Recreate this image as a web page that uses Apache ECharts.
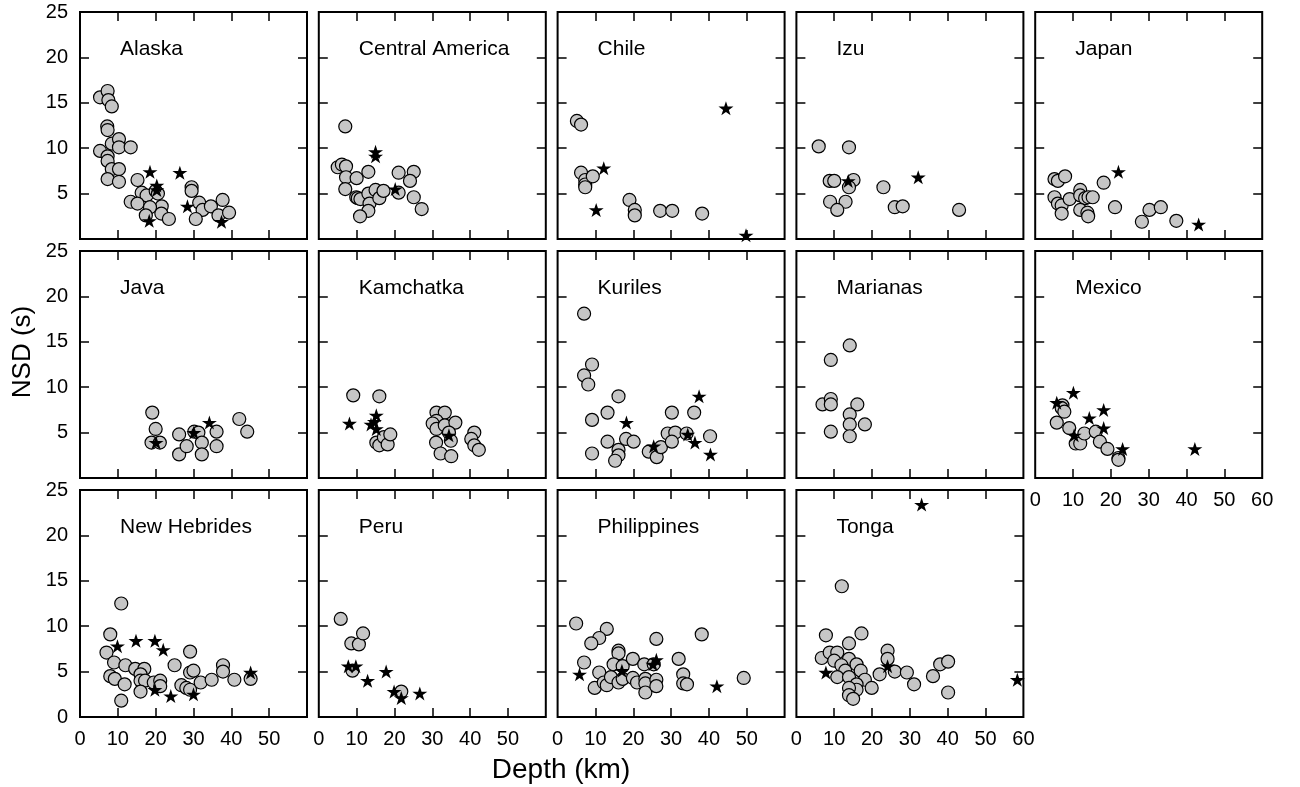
<!DOCTYPE html>
<html>
<head>
<meta charset="utf-8">
<script src="https://cdn.jsdelivr.net/npm/echarts@6/dist/echarts.min.js"></script>
<style>html,body{margin:0;padding:0;background:#fff}#c{width:1300px;height:787px}</style>
</head>
<body>
<div id="c"></div>
<script>
const regions = ['Alaska','Central America','Chile','Izu','Japan','Java','Kamchatka','Kuriles','Marianas','Mexico','New Hebrides','Peru','Philippines','Tonga'];
const xTicks = [0,10,20,30,40,50,60];
const yTicks = [0,5,10,15,20,25];

const alaskaCircles = [[5.3,15.6],[7.3,16.3],[7.5,15.3],[8.4,14.6],[7.2,12.4],[7.3,12.0],[8.4,10.5],[10.3,11.0],[10.3,10.1],[13.4,10.1],[5.3,9.7],[7.3,9.1],[7.3,8.6],[8.4,7.7],[10.3,7.7],[7.3,6.6],[10.3,6.3],[15.2,6.5],[16.3,5.1],[17.6,4.8],[13.4,4.1],[15.2,3.9],[20.0,5.3],[20.6,5.0],[21.6,3.6],[18.5,3.5],[17.4,2.6],[21.5,2.8],[23.5,2.2],[29.5,5.7],[29.5,5.3],[31.5,4.0],[32.4,3.2],[30.6,2.2],[34.6,3.6],[37.7,4.3],[36.6,2.6],[39.4,2.9]];
const alaskaStars = [[18.5,7.4],[26.4,7.3],[20.3,5.9],[20.3,5.4],[28.4,3.6],[18.3,2.0],[37.4,1.9]];

const centralAmericaCircles = [[7.0,12.4],[5.0,7.9],[6.1,8.2],[7.2,8.0],[7.2,6.8],[10.0,6.7],[13.1,7.4],[7.0,5.5],[9.9,4.6],[10.3,4.5],[11.0,4.4],[13.1,5.0],[13.4,3.9],[13.1,3.1],[10.9,2.5],[15.0,5.4],[16.0,4.5],[17.1,5.3],[21.1,7.3],[25.1,7.4],[24.1,6.4],[21.1,5.1],[25.1,4.6],[27.2,3.3]];
const centralAmericaStars = [[15.0,9.6],[15.0,9.1],[20.2,5.5]];

const chileCircles = [[5.1,13.0],[6.2,12.6],[6.2,7.3],[7.3,6.5],[7.3,6.0],[7.3,5.7],[9.3,6.9],[19.0,4.3],[20.4,3.2],[20.4,2.6],[27.1,3.1],[30.3,3.1],[38.2,2.8]];
const chileStars = [[44.5,14.4],[12.2,7.8],[10.2,3.2],[49.8,0.4]];

const izuCircles = [[5.9,10.2],[13.9,10.1],[8.8,6.4],[10.0,6.4],[15.1,6.5],[13.9,5.7],[8.9,4.1],[13.0,4.1],[10.8,3.2],[23.0,5.7],[26.0,3.5],[28.1,3.6],[43.0,3.2]];
const izuStars = [[13.7,6.4],[32.2,6.8]];

const japanCircles = [[5.1,6.6],[6.0,6.4],[7.9,6.9],[18.1,6.2],[5.1,4.6],[6.0,3.9],[7.0,3.7],[7.0,2.8],[9.1,4.4],[11.9,5.4],[11.9,4.8],[13.2,4.5],[14.1,4.6],[15.2,4.6],[11.9,3.2],[13.8,2.9],[14.0,2.5],[21.1,3.5],[28.2,1.9],[30.2,3.2],[33.2,3.5],[37.3,2.0]];
const japanStars = [[22.0,7.4],[43.2,1.6]];

const javaCircles = [[19.1,7.2],[20.0,5.4],[18.9,3.9],[21.1,3.9],[26.2,4.8],[26.2,2.6],[28.2,3.5],[30.2,5.1],[31.3,5.0],[32.2,3.9],[32.2,2.6],[36.1,5.1],[36.1,3.5],[42.1,6.5],[44.2,5.1]];
const javaStars = [[20.1,3.9],[30.1,5.0],[34.2,6.1]];

const kamchatkaCircles = [[9.1,9.1],[16.0,9.0],[15.2,3.9],[16.0,3.6],[17.2,4.5],[18.2,3.7],[18.9,4.8],[31.1,7.2],[33.3,7.2],[31.1,6.3],[30.1,6.0],[31.1,5.4],[33.3,5.8],[36.1,6.1],[34.4,5.0],[34.9,4.1],[31.0,3.9],[32.2,2.7],[35.0,2.4],[41.1,5.0],[40.3,4.3],[41.1,3.6],[42.3,3.1]];
const kamchatkaStars = [[8.1,6.0],[15.2,6.9],[13.8,5.9],[14.7,6.2],[15.2,5.4],[34.4,4.7]];

const kurilesCircles = [[7.0,18.1],[9.1,12.5],[7.0,11.3],[8.1,10.3],[16.1,9.0],[9.1,6.4],[13.2,7.2],[30.2,7.2],[36.1,7.2],[13.2,4.0],[18.1,4.3],[20.1,4.0],[9.1,2.7],[16.1,3.1],[16.1,2.5],[15.2,1.9],[24.1,2.9],[26.2,2.3],[27.3,3.4],[29.1,4.9],[31.1,5.0],[30.2,4.0],[34.1,4.9],[40.3,4.6]];
const kurilesStars = [[37.4,9.0],[18.2,6.1],[25.4,3.5],[34.4,4.8],[36.3,3.9],[40.4,2.6]];

const marianasCircles = [[14.1,14.6],[9.1,13.0],[6.9,8.1],[9.1,8.7],[9.1,8.1],[16.1,8.1],[14.1,7.0],[14.1,5.9],[18.1,5.9],[9.1,5.1],[14.1,4.6]];
const marianasStars = [];

const mexicoCircles = [[7.2,8.0],[7.0,7.7],[7.7,7.3],[5.7,6.1],[9.0,5.5],[10.7,3.8],[11.9,3.8],[13.0,4.9],[16.0,5.1],[17.1,4.0],[19.1,3.2],[22.0,2.2],[22.0,2.0]];
const mexicoStars = [[5.7,8.3],[10.1,9.4],[14.3,6.6],[18.1,7.5],[18.1,5.5],[10.3,4.7],[23.1,3.2],[42.2,3.2]];

const newHebridesCircles = [[10.9,12.5],[8.0,9.1],[7.0,7.1],[9.0,6.0],[12.0,5.7],[8.0,4.5],[9.2,4.2],[11.8,3.6],[14.6,5.3],[17.0,5.3],[16.0,4.7],[16.0,4.0],[17.2,4.0],[16.0,2.8],[19.5,3.8],[21.2,4.0],[21.2,3.4],[10.9,1.8],[25.0,5.7],[29.1,7.2],[29.1,4.9],[30.0,5.1],[26.8,3.5],[28.1,3.2],[29.1,3.0],[31.9,3.8],[34.8,4.1],[37.8,5.7],[37.8,5.0],[40.8,4.1],[45.1,4.2]];
const newHebridesStars = [[9.9,7.8],[14.8,8.4],[19.8,8.4],[22.0,7.4],[19.8,3.0],[24.0,2.3],[30.0,2.5],[45.1,4.9]];

const peruCircles = [[5.8,10.8],[8.6,8.1],[10.6,8.0],[11.7,9.2],[8.9,5.1],[21.8,2.8]];
const peruStars = [[7.8,5.6],[9.8,5.6],[12.9,4.0],[17.8,5.0],[19.9,2.8],[21.8,2.1],[26.7,2.6]];

const philippinesCircles = [[4.9,10.3],[13.0,9.7],[11.0,8.7],[8.9,8.1],[7.0,6.0],[16.1,7.3],[16.1,7.0],[14.8,5.8],[17.2,5.6],[19.9,6.4],[22.9,5.8],[26.1,8.6],[32.0,6.4],[38.1,9.1],[11.0,4.9],[9.8,3.2],[12.2,3.8],[13.0,3.5],[14.1,4.4],[16.1,3.8],[17.2,4.2],[19.9,4.3],[21.0,3.8],[23.2,4.2],[23.2,3.7],[23.2,2.7],[26.1,4.1],[26.1,3.4],[33.2,4.7],[33.2,3.7],[34.2,3.6],[49.2,4.3],[25.4,5.8]];
const philippinesStars = [[5.8,4.7],[17.0,5.1],[26.1,6.3],[25.2,5.8],[42.1,3.4]];

const tongaCircles = [[12.0,14.4],[7.8,9.0],[17.2,9.2],[13.9,8.1],[6.7,6.5],[8.8,7.1],[10.8,7.1],[10.0,6.2],[13.9,6.4],[11.9,5.7],[12.9,5.1],[15.9,5.8],[17.0,5.1],[10.8,4.4],[13.9,4.4],[18.1,4.1],[15.9,3.6],[15.9,3.0],[13.9,3.2],[13.9,2.4],[15.0,2.0],[19.9,3.2],[22.0,4.7],[24.1,7.3],[24.1,6.4],[26.0,5.0],[29.2,4.9],[31.1,3.6],[36.1,4.5],[38.0,5.8],[40.1,6.1],[40.1,2.7]];
const tongaStars = [[33.1,23.4],[7.8,4.9],[24.1,5.6],[58.4,4.1]];

const circleSets = [alaskaCircles,centralAmericaCircles,chileCircles,izuCircles,japanCircles,javaCircles,kamchatkaCircles,kurilesCircles,marianasCircles,mexicoCircles,newHebridesCircles,peruCircles,philippinesCircles,tongaCircles];
const starSets = [alaskaStars,centralAmericaStars,chileStars,izuStars,japanStars,javaStars,kamchatkaStars,kurilesStars,marianasStars,mexicoStars,newHebridesStars,peruStars,philippinesStars,tongaStars];

const FONT = '"Liberation Sans", Arial, Helvetica, sans-serif';
const colLefts = [80, 318.8, 557.6, 796.4, 1035.2];
const rowTops = [12, 251, 490];
const W = 227, H = 227;
const STAR = 'path://M50 0 L61.23 34.55 L97.55 34.55 L68.17 55.9 L79.39 90.45 L50 69.1 L20.61 90.45 L31.83 55.9 L2.45 34.55 L38.77 34.55 Z';
const xInnerTicks = xTicks.slice(1, -1);
const yInnerTicks = yTicks.slice(1, -1);

const grid = [], xAxis = [], yAxis = [], series = [], graphic = [];
regions.forEach((name, k) => {
  const row = Math.floor(k / 5), col = k % 5;
  const left = colLefts[col], top = rowTops[row];
  grid.push({left: left, top: top, width: W, height: H, show: true, borderColor: '#000', borderWidth: 2, backgroundColor: 'transparent', containLabel: false});
  const showX = row === 2 || k === 9;
  const show60 = k === 9 || k === 13;
  const showY = col === 0;
  const show0 = row === 2;
  const xtick = {show: true, inside: true, length: 9, customValues: xInnerTicks, lineStyle: {color: '#000', width: 1.5}};
  const ytick = {show: true, inside: true, length: 9, customValues: yInnerTicks, lineStyle: {color: '#000', width: 1.5}};
  const line = {show: false, onZero: false};
  xAxis.push({type: 'value', gridIndex: k, position: 'bottom', min: xTicks[0], max: xTicks[xTicks.length-1], interval: 10,
    axisLine: line, splitLine: {show: false}, axisTick: xtick,
    axisLabel: {show: showX, margin: 12, color: '#000', fontSize: 20, fontFamily: FONT,
      formatter: v => (v === 60 && !show60) ? '' : String(v)}});
  xAxis.push({type: 'value', gridIndex: k, position: 'top', min: xTicks[0], max: xTicks[xTicks.length-1], interval: 10,
    axisLine: line, splitLine: {show: false}, axisTick: xtick, axisLabel: {show: false}});
  yAxis.push({type: 'value', gridIndex: k, position: 'left', min: yTicks[0], max: yTicks[yTicks.length-1], interval: 5,
    axisLine: line, splitLine: {show: false}, axisTick: ytick,
    axisLabel: {show: showY, margin: 12, color: '#000', fontSize: 20, fontFamily: FONT,
      formatter: v => (v === 0 && !show0) ? '' : String(v)}});
  yAxis.push({type: 'value', gridIndex: k, position: 'right', min: yTicks[0], max: yTicks[yTicks.length-1], interval: 5,
    axisLine: line, splitLine: {show: false}, axisTick: ytick, axisLabel: {show: false}});
  series.push({type: 'scatter', name: name + ' circles', xAxisIndex: 2*k, yAxisIndex: 2*k, data: circleSets[k],
    symbol: 'circle', symbolSize: 13, z: 3,
    itemStyle: {color: '#c6c6c6', borderColor: '#000', borderWidth: 1.2, opacity: 1}});
  series.push({type: 'scatter', name: name + ' stars', xAxisIndex: 2*k, yAxisIndex: 2*k, data: starSets[k],
    symbol: STAR, symbolSize: [15, 14], symbolKeepAspect: false, z: 4,
    itemStyle: {color: '#000', borderWidth: 0, opacity: 1}});
  graphic.push({type: 'text', x: left + 40, y: top + 37, z: 10,
    style: {text: name, fill: '#000', font: '21px ' + FONT, textAlign: 'left', textVerticalAlign: 'middle'}});
});
graphic.push({type: 'text', x: 561, y: 770, style: {text: 'Depth (km)', fill: '#000', font: '28px ' + FONT, textAlign: 'center', textVerticalAlign: 'middle'}});
graphic.push({type: 'text', x: 23, y: 352, rotation: Math.PI/2, style: {text: 'NSD (s)', fill: '#000', font: '26px ' + FONT, textAlign: 'center', textVerticalAlign: 'middle'}});

const chart = echarts.init(document.getElementById('c'), null, {renderer: 'canvas'});
chart.setOption({animation: false, backgroundColor: '#fff', grid, xAxis, yAxis, series, graphic});
</script>
</body>
</html>
